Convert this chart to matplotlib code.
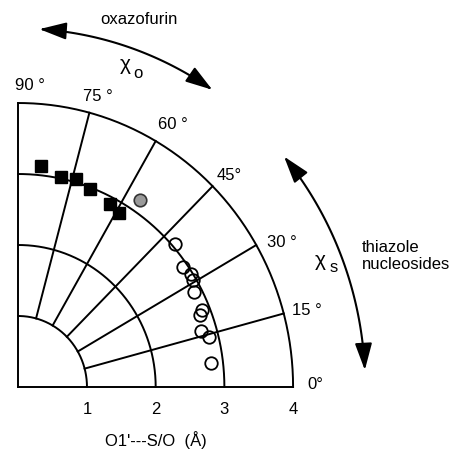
import numpy as np
import matplotlib
matplotlib.use("Agg")
import matplotlib.pyplot as plt
from matplotlib.patches import FancyArrowPatch
from matplotlib.path import Path

plt.rcParams['font.family'] = ['Liberation Sans', 'DejaVu Sans']

# oxazofurin (filled squares): O1'---S/O distance (A) and chi angle (deg)
ox_dist = [3.13, 3.02, 3.05, 2.98, 2.90, 2.86]
ox_chi = [84.0, 78.1, 74.0, 69.5, 62.6, 59.1]

# single grey point
grey_dist = [3.17]
grey_chi = [56.1]

# thiazole nucleosides (open circles)
thz_dist = [3.04, 2.94, 2.97, 2.95, 2.89, 2.88, 2.83, 2.78, 2.86, 2.82]
thz_chi = [41.4, 35.2, 32.3, 30.7, 27.6, 22.1, 21.0, 16.5, 14.4, 6.8]

r_ticks = [1, 2, 3, 4]
angle_ticks = [0, 15, 30, 45, 60, 75, 90]
angle_labels = ["0°", "15 °", "30 °", "45°", "60 °", "75 °", "90 °"]


def to_xy(r, deg):
    t = np.radians(np.asarray(deg, dtype=float))
    r = np.asarray(r, dtype=float)
    return r * np.cos(t), r * np.sin(t)


fig = plt.figure(figsize=(4.59, 4.57), dpi=100)
ax = fig.add_axes([0, 0, 1, 1])
ax.set_xlim(-0.266, 6.415)
ax.set_ylim(-0.986, 5.451)
ax.axis('off')

lw = 1.4
# arcs
th = np.linspace(0, 90, 200)
for r in r_ticks:
    x, y = to_xy(np.full_like(th, r), th)
    ax.plot(x, y, color='black', lw=lw)
# spokes
for a in angle_ticks[1:-1]:
    x, y = to_xy([1, 4], [a, a])
    ax.plot(x, y, color='black', lw=lw)
ax.plot([0, 0], [0, 4], color='black', lw=lw)
ax.plot([0, 4], [0, 0], color='black', lw=lw)

# angle labels
offsets = {0: (22, 2), 15: (23, 3), 30: (26, 3), 45: (17, 11),
           60: (17, 17), 75: (8, 16), 90: (12, 18)}
for a, lab in zip(angle_ticks, angle_labels):
    x, y = to_xy(4, a)
    ax.annotate(lab, (x, y), xytext=offsets[a], textcoords='offset pixels',
                ha='center', va='center', fontsize=12)

# distance tick labels
for r in r_ticks:
    ax.annotate(str(r), (r, 0), xytext=(0, -23), textcoords='offset pixels',
                ha='center', va='center', fontsize=12)
ax.annotate("O1'---S/O  (Å)", (2.0, 0), xytext=(0, -53), textcoords='offset pixels',
            ha='center', va='center', fontsize=12)

# data
x, y = to_xy(ox_dist, ox_chi)
ax.plot(x, y, 's', color='black', ms=9, zorder=5)
x, y = to_xy(grey_dist, grey_chi)
ax.plot(x, y, 'o', mfc='#9a9a9a', mec='#333333', mew=1.2, ms=9, zorder=5)
x, y = to_xy(thz_dist, thz_chi)
ax.plot(x, y, 'o', mfc='none', mec='black', mew=1.3, ms=9, zorder=5)

# curved double arrows
def arc_arrow(r, a0, a1):
    t = np.linspace(a0, a1, 60)
    x, y = to_xy(np.full_like(t, r), t)
    p = Path(np.column_stack([x, y]))
    ax.add_patch(FancyArrowPatch(path=p, arrowstyle='<|-|>,head_length=1.1,head_width=0.35',
                                 mutation_scale=15, color='black', lw=1.5,
                                 transform=ax.transData))

arc_arrow(5.05, 56, 86.5)
arc_arrow(5.05, 2.7, 40)


def fig_text(s, px, py, **kw):
    # position given in pixels from the top-left corner
    ax.annotate(s, (0, 0), xycoords='figure pixels', xytext=(px, 457 - py),
                textcoords='figure pixels', va='center', **kw)


fig_text("oxazofurin", 139, 20, ha='center', fontsize=12)
fig_text("χ", 125, 64, ha='center', fontsize=15)
fig_text("o", 138, 73, ha='center', fontsize=12)
fig_text("χ", 320, 260, ha='center', fontsize=15)
fig_text("s", 334, 268, ha='center', fontsize=12)
fig_text("thiazole\nnucleosides", 362, 256, ha='left', fontsize=12, linespacing=1.1)

fig.savefig("out.png", dpi=100)
